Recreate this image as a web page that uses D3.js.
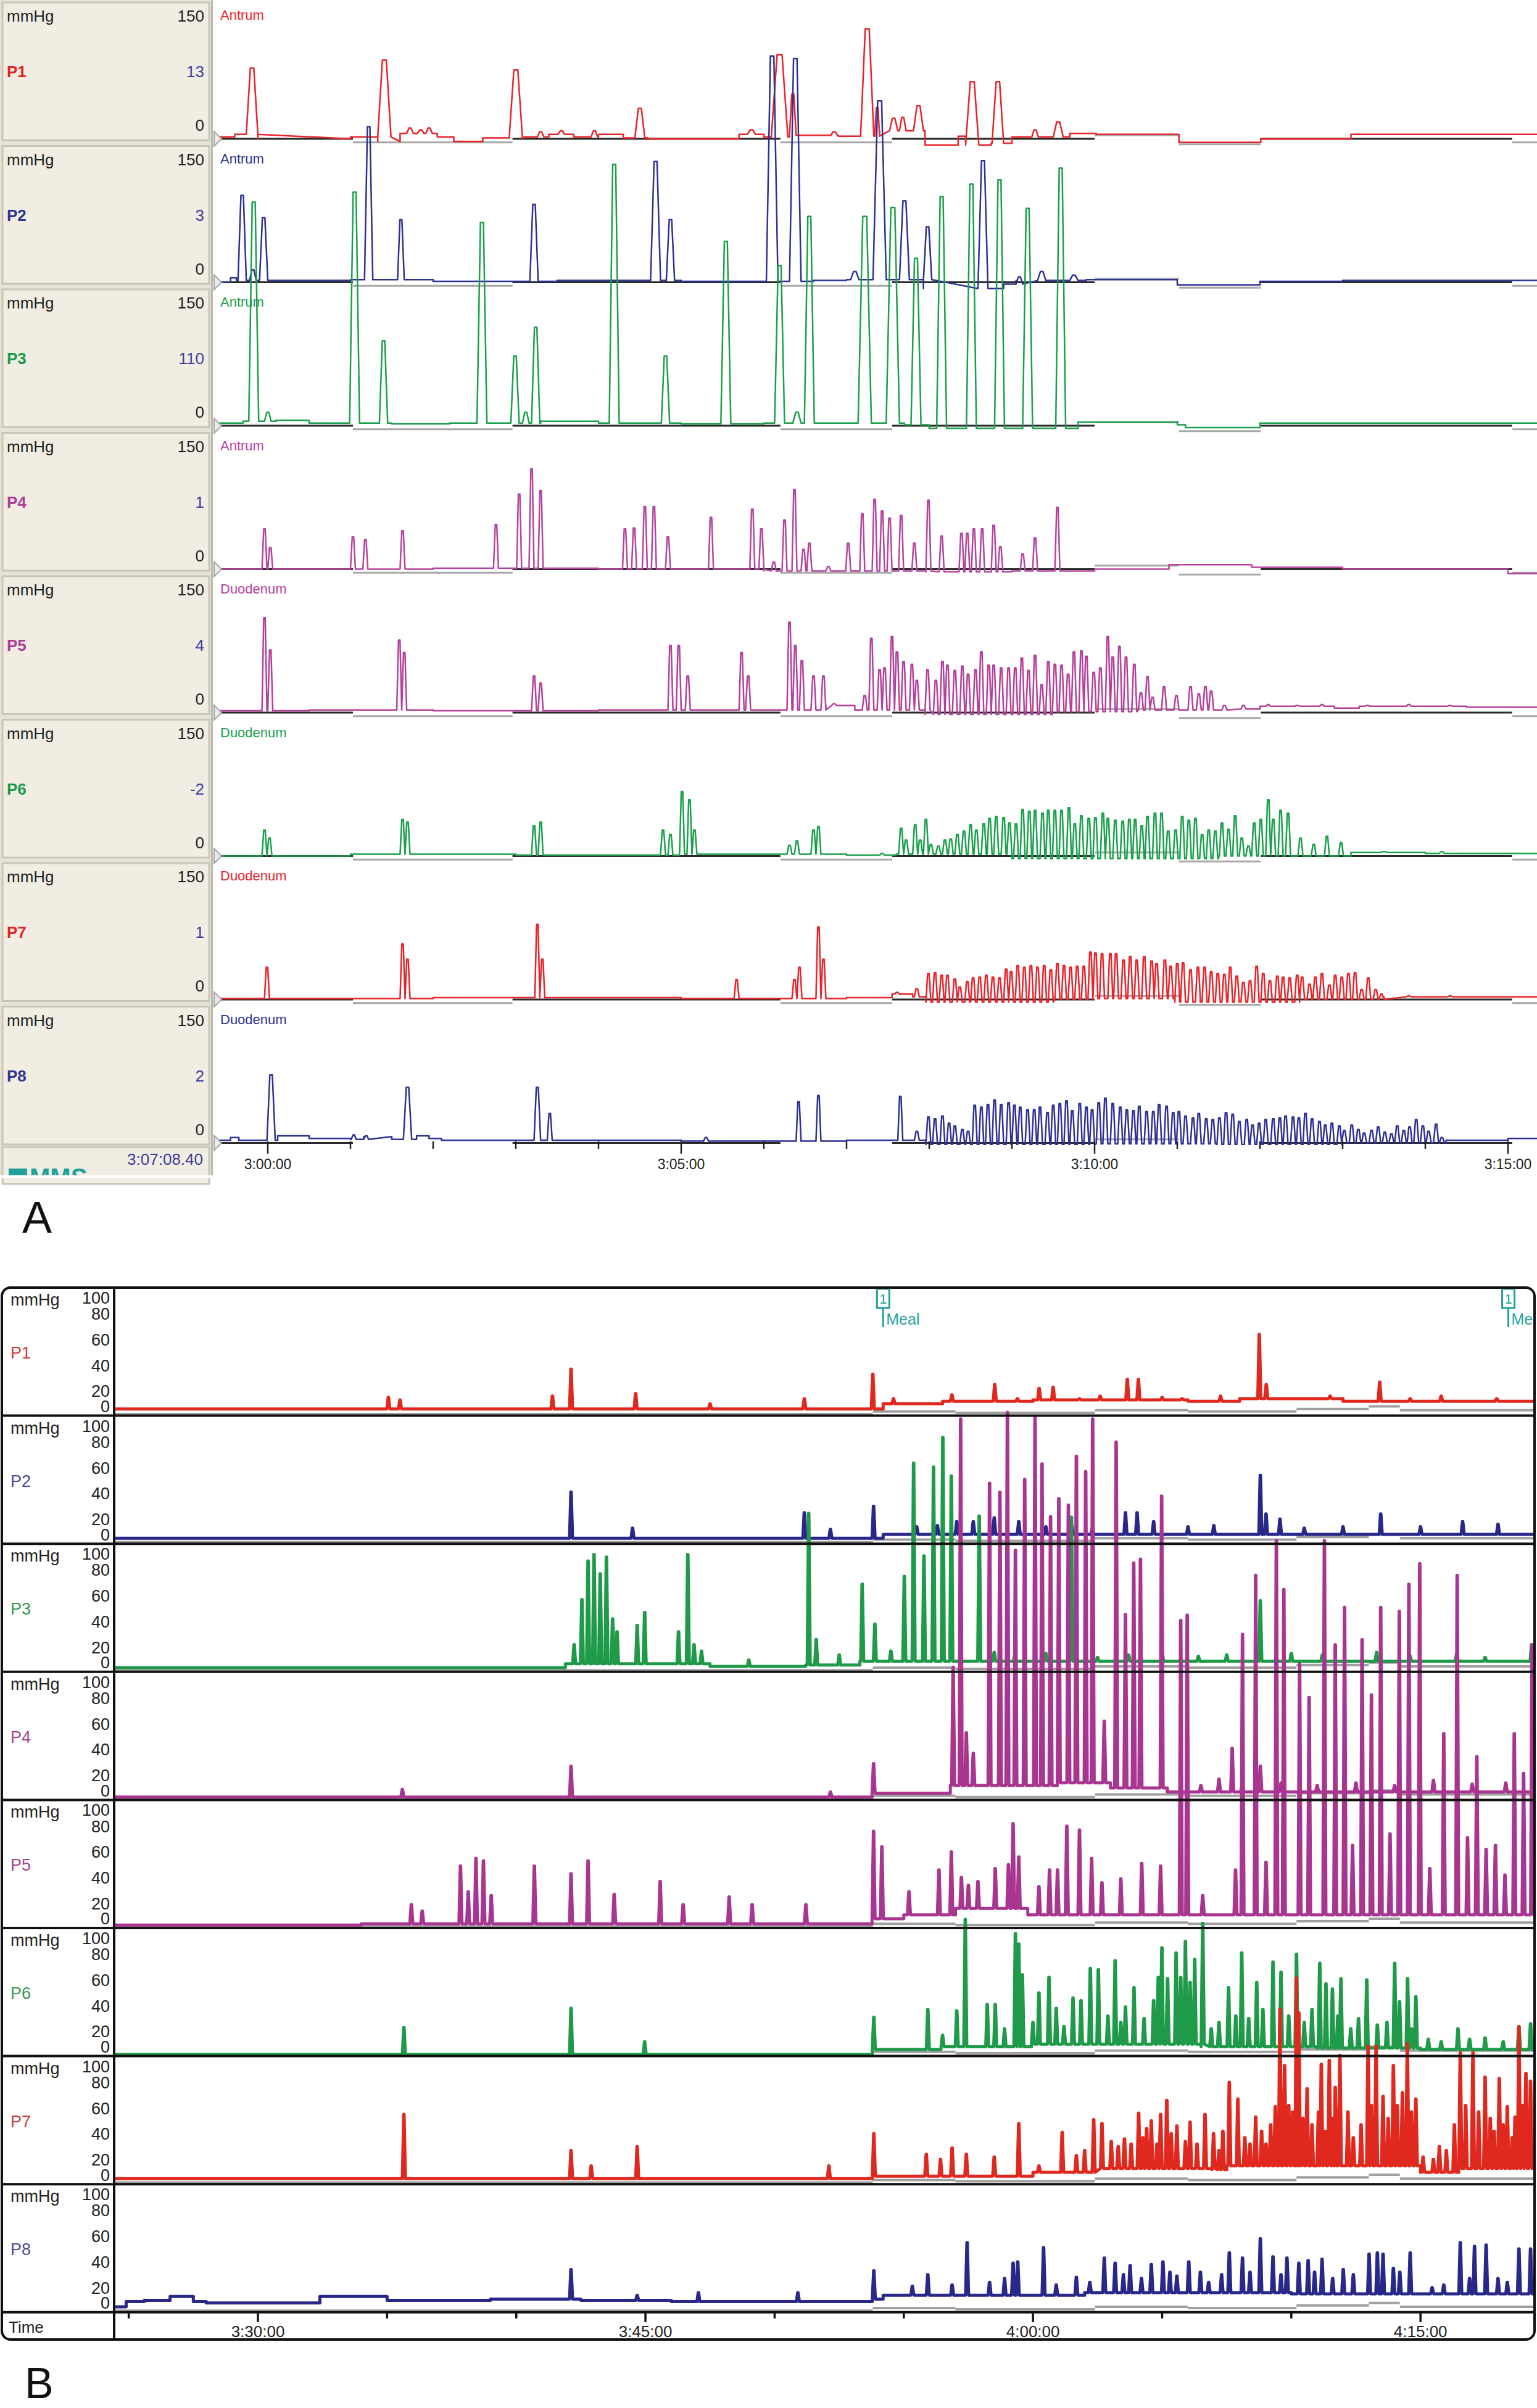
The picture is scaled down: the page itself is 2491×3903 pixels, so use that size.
<!DOCTYPE html>
<html>
<head>
<meta charset="utf-8">
<script src="https://cdn.jsdelivr.net/npm/d3@7"></script>
<style>
body { margin: 0; background: #fff; }
text { font-family: "Liberation Sans", Arial, sans-serif; }
</style>
</head>
<body>
<svg id="chart" width="2491" height="3903"></svg>
<script>
// ---------- data: panel A (minutes after 3:00:00, mmHg) ----------
var channels = ["P1", "P2", "P3", "P4", "P5", "P6", "P7", "P8"];
var sitesA = ["Antrum", "Antrum", "Antrum", "Antrum", "Duodenum", "Duodenum", "Duodenum", "Duodenum"];
var currentA = ["13", "3", "110", "1", "4", "-2", "1", "2"];
var scaleMaxA = 150;
var ticksA = [0, 5, 10, 15];
var tickLabelsA = ["3:00:00", "3:05:00", "3:10:00", "3:15:00"];
var cursorTimeA = "3:07:08.40";
// zero reference segments [from, to, level]
var refA = [[-0.65, 1.03, 0], [1.03, 2.96, -4], [2.96, 6.2, 0], [6.2, 7.55, -4], [7.55, 10.0, 0], [10.0, 11.02, 4], [11.02, 12.01, -6], [12.01, 15.05, 0], [15.05, 15.5, -4]];

// baseline steps [start, level] and peaks [time, mmHg, halfwidth?]
var a1Base = [[-0.65, 2], [-0.4, 5], [-0.12, 0], [1.0, 2], [1.48, -3], [1.6, 6], [2.05, 2], [2.25, -3], [2.6, 1], [3.1, 2], [3.4, 5], [3.7, 2], [4.0, 5], [4.3, 1], [4.6, 0], [5.7, 5], [6.0, 2], [6.35, 4], [6.9, 3], [7.4, 9], [7.95, -7], [8.35, 3], [8.45, -7], [8.75, -5], [9.0, 2], [9.7, 6], [10.02, 5], [11.02, -4], [12.01, 0], [13.1, 5]];
var a1Peaks = [[-0.19, 79, 0.07], [1.41, 88, 0.08], [1.72, 12, 0.04], [1.85, 10, 0.04], [1.95, 12, 0.04], [3.0, 77, 0.08], [3.3, 8, 0.04], [3.55, 9, 0.04], [3.95, 9, 0.04], [4.5, 34, 0.06], [5.85, 10, 0.05], [6.19, 94, 0.1], [6.35, 50, 0.04], [6.85, 8, 0.04], [7.25, 123, 0.08], [7.37, 35, 0.03], [7.57, 23, 0.05], [7.68, 24, 0.04], [7.87, 37, 0.06], [8.52, 64, 0.08], [8.83, 64, 0.07], [9.28, 10, 0.04], [9.56, 19, 0.06]];

var a2Base = [[-0.65, 0], [-0.45, 5], [-0.38, 2], [0.05, 2], [1.0, 3], [2.0, 1], [3.5, 2], [5.0, 1], [6.6, 2], [7.0, 3], [8.0, -7], [8.9, -2], [9.1, 2], [9.9, 3], [11.0, -3], [12.0, 1], [13.0, 2]];
var a2Peaks = [[-0.31, 97, 0.05], [-0.18, 14, 0.04], [-0.05, 72, 0.05], [1.22, 174, 0.05], [1.61, 70, 0.04], [3.22, 87, 0.05], [4.69, 135, 0.06], [4.87, 70, 0.05], [6.1, 253, 0.07], [6.38, 250, 0.07], [7.1, 12, 0.05], [7.4, 203, 0.08], [7.7, 91, 0.06], [7.98, 62, 0.05], [8.65, 136, 0.06], [9.09, 6, 0.04], [9.36, 12, 0.05], [9.75, 8, 0.05]];

var a3Base = [[-0.65, 3], [-0.3, 5], [0.1, 6], [0.5, 3], [1.5, 2], [2.2, 3], [3.3, 5], [4.0, 3], [5.0, 2], [6.0, 3], [7.7, 1], [8.0, -3], [9.8, 4], [11.0, 1], [11.1, -2], [12.0, 3]];
var a3Peaks = [[-0.17, 250, 0.06], [0.0, 15, 0.04], [1.05, 261, 0.06], [1.4, 95, 0.05], [2.59, 227, 0.06], [2.99, 78, 0.05], [3.12, 15, 0.04], [3.24, 110, 0.05], [4.19, 292, 0.06], [4.81, 78, 0.05], [5.54, 206, 0.06], [6.19, 179, 0.06], [6.4, 15, 0.05], [6.55, 234, 0.06], [7.22, 234, 0.08], [7.56, 244, 0.08], [7.84, 187, 0.06], [8.15, 256, 0.06], [8.51, 270, 0.06], [8.85, 275, 0.06], [9.19, 243, 0.06], [9.59, 288, 0.06]];

var a4Base = [[-0.65, 0], [2.0, 1], [4.0, 0], [6.0, -2], [8.0, -3], [9.0, -2], [10.0, 0], [10.9, 5], [11.9, 2], [13.0, 0], [15.0, -5]];
var a4Peaks = [[-0.04, 45], [0.03, 24], [1.03, 36], [1.18, 33], [1.63, 43], [2.76, 50], [3.04, 84], [3.19, 112], [3.3, 88], [4.32, 45], [4.43, 46], [4.56, 70], [4.67, 70], [4.84, 36], [5.36, 58], [5.86, 67], [5.97, 45], [6.12, 8], [6.25, 55], [6.37, 89], [6.48, 22], [6.55, 29], [6.78, 3], [7.02, 29], [7.19, 62], [7.34, 78], [7.43, 65], [7.52, 57], [7.66, 60], [7.82, 29], [7.99, 77], [8.15, 37], [8.39, 40], [8.46, 40], [8.54, 45], [8.64, 45], [8.78, 49], [8.86, 25], [9.13, 17], [9.28, 35], [9.55, 69]];

var a5Base = [[-0.65, 2], [0.5, 3], [2.0, 2], [4.0, 3], [6.75, 8], [7.1, 3], [8.0, -2], [9.5, 1], [10.5, 3], [11.6, 4], [12.0, 7], [12.9, 5], [13.2, 7], [14.5, 6]];
var a5Peaks = [[-0.04, 106], [0.03, 70], [1.59, 81], [1.65, 67], [3.22, 41], [3.3, 33], [4.87, 75], [4.97, 75], [5.08, 41], [5.73, 67], [5.81, 41], [6.31, 101], [6.38, 75], [6.46, 58], [6.6, 41], [6.72, 41], [6.85, 10], [7.22, 19], [7.3, 83], [7.4, 48], [7.46, 50], [7.55, 85], [7.61, 68], [7.69, 57], [7.79, 54], [7.85, 36], [7.98, 48], [8.08, 36], [8.16, 57], [8.22, 53], [8.31, 47], [8.4, 52], [8.47, 43], [8.56, 48], [8.63, 68], [8.72, 53], [8.78, 53], [8.87, 50], [8.96, 50], [9.04, 50], [9.12, 61], [9.2, 47], [9.28, 64], [9.36, 31], [9.44, 57], [9.52, 54], [9.6, 53], [9.68, 43], [9.75, 68], [9.84, 69], [9.9, 63], [9.99, 45], [10.07, 50], [10.16, 85], [10.22, 62], [10.3, 74], [10.38, 62], [10.48, 54], [10.56, 22], [10.64, 40], [10.7, 17], [10.84, 29], [10.99, 19], [11.16, 29], [11.26, 21], [11.34, 29], [11.41, 24], [11.57, 8], [11.8, 8], [12.1, 9], [12.45, 8], [12.75, 9], [13.3, 8], [13.8, 9], [14.3, 8]];

var a6Base = [[-0.65, 0], [1.0, 2], [3.0, 1], [5.0, 2], [7.0, 1], [7.6, 2], [9.0, -3], [10.5, -3], [11.5, 0], [13.1, 4], [14.0, 3]];
var a6Peaks = [[-0.04, 29], [0.02, 20], [1.63, 41], [1.69, 38], [3.22, 34], [3.3, 38], [4.78, 29], [4.87, 24], [5.01, 72], [5.1, 63], [5.16, 29], [6.31, 12], [6.4, 17], [6.6, 29], [6.66, 33], [7.43, 3], [7.66, 31], [7.72, 18], [7.83, 35], [7.89, 18], [7.96, 41], [8.02, 13], [8.11, 11], [8.19, 18], [8.26, 19], [8.34, 24], [8.42, 28], [8.5, 35], [8.57, 29], [8.66, 36], [8.73, 42], [8.81, 44], [8.9, 43], [8.97, 37], [9.05, 36], [9.13, 52], [9.21, 50], [9.28, 51], [9.37, 48], [9.44, 51], [9.52, 51], [9.6, 51], [9.69, 54], [9.76, 36], [9.84, 45], [9.93, 42], [10.01, 43], [10.1, 48], [10.16, 42], [10.25, 40], [10.34, 39], [10.42, 41], [10.49, 41], [10.57, 34], [10.64, 44], [10.73, 48], [10.81, 48], [10.89, 28], [10.98, 29], [11.06, 44], [11.14, 40], [11.22, 42], [11.3, 24], [11.38, 29], [11.46, 28], [11.54, 37], [11.62, 30], [11.7, 45], [11.78, 20], [11.86, 11], [11.93, 37], [12.01, 41], [12.1, 63], [12.16, 41], [12.25, 51], [12.34, 48], [12.49, 20], [12.65, 13], [12.81, 22], [12.98, 15], [13.5, 5], [14.2, 5]];

var a7Base = [[-0.65, 1], [2.0, 2], [5.0, 1], [7.0, 2], [7.55, 6], [7.8, 3], [7.97, -3], [9.5, 0], [10.0, 1], [11.0, -3], [12.5, 0], [13.5, 3]];
var a7Peaks = [[-0.01, 36], [1.63, 62], [1.69, 45], [3.26, 84], [3.32, 45], [5.67, 22], [6.37, 22], [6.43, 36], [6.66, 81], [6.72, 45], [7.61, 8], [7.85, 12], [7.99, 29], [8.07, 30], [8.15, 27], [8.22, 27], [8.31, 23], [8.37, 14], [8.46, 20], [8.53, 24], [8.61, 25], [8.69, 27], [8.77, 25], [8.85, 24], [8.93, 34], [8.99, 31], [9.07, 38], [9.15, 36], [9.23, 38], [9.31, 36], [9.39, 38], [9.47, 33], [9.55, 40], [9.63, 38], [9.71, 36], [9.79, 37], [9.87, 37], [9.95, 53], [10.01, 52], [10.09, 51], [10.19, 51], [10.26, 51], [10.35, 44], [10.43, 48], [10.51, 44], [10.6, 48], [10.69, 43], [10.75, 40], [10.85, 44], [10.92, 37], [11.0, 40], [11.07, 41], [11.16, 33], [11.25, 36], [11.33, 36], [11.41, 31], [11.49, 29], [11.57, 28], [11.64, 36], [11.72, 26], [11.8, 19], [11.88, 21], [11.96, 37], [12.04, 29], [12.12, 21], [12.21, 26], [12.28, 25], [12.36, 24], [12.45, 27], [12.51, 25], [12.6, 17], [12.67, 25], [12.75, 29], [12.84, 16], [12.91, 27], [12.99, 25], [13.07, 29], [13.15, 30], [13.23, 11], [13.31, 24], [13.4, 11], [13.47, 6], [13.8, 4], [14.3, 4]];

var a8Base = [[-0.65, 3], [-0.45, 6], [-0.35, 3], [0.12, 8], [0.5, 5], [1.0, 4], [1.2, 7], [1.5, 4], [1.8, 8], [1.95, 5], [2.1, 3], [5.0, 2], [7.0, 3], [7.97, -2], [10.0, -1], [11.5, -2], [13.0, 0], [14.25, 3], [15.0, 5]];
var a8Peaks = [[0.04, 76, 0.05], [1.04, 9], [1.19, 8], [1.69, 62, 0.05], [3.26, 62, 0.04], [3.41, 33], [5.3, 6], [6.42, 46], [6.66, 53], [7.65, 52], [7.85, 13], [7.99, 29], [8.07, 27], [8.16, 30], [8.24, 22], [8.31, 19], [8.4, 15], [8.47, 13], [8.55, 42], [8.63, 40], [8.71, 43], [8.79, 48], [8.87, 43], [8.96, 45], [9.03, 42], [9.1, 40], [9.19, 37], [9.27, 37], [9.34, 40], [9.43, 34], [9.5, 42], [9.58, 44], [9.66, 47], [9.73, 36], [9.82, 44], [9.9, 40], [9.97, 37], [10.05, 45], [10.13, 50], [10.22, 44], [10.31, 40], [10.39, 37], [10.47, 36], [10.54, 41], [10.63, 35], [10.71, 35], [10.78, 43], [10.87, 41], [10.95, 34], [11.02, 35], [11.1, 30], [11.19, 28], [11.26, 33], [11.35, 27], [11.43, 26], [11.51, 28], [11.59, 34], [11.67, 32], [11.75, 24], [11.84, 26], [11.91, 20], [11.99, 22], [12.07, 26], [12.16, 27], [12.24, 28], [12.31, 30], [12.4, 29], [12.47, 28], [12.55, 33], [12.63, 27], [12.72, 24], [12.79, 20], [12.87, 22], [12.96, 19], [13.02, 14], [13.11, 20], [13.19, 15], [13.26, 11], [13.35, 14], [13.43, 18], [13.51, 12], [13.59, 10], [13.66, 19], [13.74, 14], [13.81, 18], [13.89, 26], [13.97, 19], [14.04, 13], [14.13, 21], [14.2, 6]];

// ---------- data: panel B (minutes after 3:00:00, mmHg) ----------
var yTicksB = [0, 20, 40, 60, 80, 100];
var ticksB = [30, 45, 60, 75];
var minorTicksB = [25, 35, 40, 50, 55, 65, 70];
var tickLabelsB = ["3:30:00", "3:45:00", "4:00:00", "4:15:00"];
var mealTimes = [54.2, 78.4];
var mealLabel = "Meal";
var refB = [[24.3, 53.8, 0], [53.8, 57, 2], [57, 62.4, 1], [62.4, 66, 3], [66, 70.2, 2], [70.2, 73, 4], [73, 74.2, 6], [74.2, 79.6, 3]];

var b1Base = [[24.43, 4], [54.2, 8], [56.5, 10], [60.0, 11], [66, 10], [68, 12], [72, 10], [79.5, 11]];
var b1Peaks = [[35.05, 13], [35.5, 11], [41.4, 14], [42.12, 35], [44.62, 16], [47.5, 8], [51.15, 12], [53.8, 31], [54.6, 12], [56.86, 15], [57.6, 10], [58.52, 23], [59.4, 12], [60.24, 20], [60.78, 21], [61.8, 12], [62.6, 14], [63.65, 27], [64.08, 27], [65.0, 13], [65.77, 12], [67.26, 14], [68.76, 62], [69.03, 23], [70.2, 12], [71.5, 14], [73.42, 25], [74.6, 12], [75.8, 14], [77.95, 12]];

var b2Base = [[24.43, 3], [54.2, 6]];
var b2Peaks = [[42.12, 39], [44.5, 11], [51.15, 23], [52.16, 10], [53.83, 28], [55.5, 12], [56.3, 13], [57.05, 16], [57.69, 16], [58.5, 19], [59.45, 16], [60.5, 12], [61.5, 13], [62.3, 11], [63.58, 23], [64.03, 23], [64.67, 16], [66.0, 12], [67.0, 13], [68.8, 52], [69.02, 22], [69.56, 18], [70.5, 11], [72.0, 12], [73.46, 22], [75.0, 12], [76.63, 16], [78.0, 14]];

var b3Base = [[24.43, 2], [41.9, 5], [47.5, 3], [51.2, 4], [53.3, 7]];
var b3Peaks = [[42.24, 20], [42.54, 55], [42.78, 85], [43.01, 90], [43.25, 75], [43.49, 88], [43.73, 40], [43.9, 30], [44.68, 35], [44.97, 45], [46.28, 30], [46.64, 90], [46.88, 20], [47.17, 15], [49.0, 8], [51.32, 122], [51.61, 24], [52.5, 12], [53.39, 67], [53.88, 36], [54.5, 15], [55.02, 73], [55.38, 161], [55.78, 89], [56.15, 158], [56.51, 181], [56.84, 151], [57.92, 120], [58.5, 14], [59.3, 12], [60.5, 13], [61.49, 119], [62.5, 10], [63.7, 12], [65.0, 14], [66.4, 11], [67.5, 12], [68.8, 54], [70.0, 13], [71.2, 12], [73.3, 14], [74.6, 11], [76.4, 13], [77.5, 10], [79.3, 20]];

var b4Base = [[24.43, 1], [53.8, 4], [56.8, 10], [61.0, 12], [63.0, 8], [65.2, 5]];
var b4Peaks = [[35.59, 7], [42.12, 25], [52.16, 5], [53.83, 27], [56.91, 102], [57.2, 295], [57.42, 51], [57.69, 35], [58.32, 245], [58.72, 238], [59.01, 300], [59.32, 193], [59.68, 248], [60.08, 297], [60.35, 260], [60.68, 219], [61.0, 233], [61.37, 228], [61.68, 266], [62.04, 254], [62.31, 295], [62.76, 60], [63.22, 277], [63.58, 143], [63.9, 183], [64.16, 186], [64.98, 235], [66.5, 10], [67.2, 15], [67.71, 39], [68.1, 12], [68.8, 25], [69.6, 12], [71.0, 10], [72.5, 12], [74.0, 10], [75.5, 14], [77.0, 11], [78.3, 12]];

var b5Base = [[24.43, 1], [34.0, 2], [53.8, 6], [55.0, 9], [57.0, 14], [59.8, 9]];
var b5Peaks = [[35.94, 17], [36.36, 12], [37.84, 47], [38.14, 27], [38.44, 53], [38.73, 51], [39.03, 24], [40.7, 47], [42.12, 41], [42.78, 51], [43.79, 25], [45.57, 35], [46.46, 17], [48.24, 23], [49.13, 17], [51.21, 17], [53.83, 74], [54.15, 62], [55.2, 27], [56.36, 44], [56.84, 58], [57.23, 38], [57.5, 32], [57.87, 35], [58.54, 45], [59.05, 48], [59.23, 80], [59.45, 54], [60.23, 31], [60.64, 44], [60.95, 44], [61.31, 78], [61.8, 75], [62.27, 53], [62.67, 34], [63.4, 37], [64.21, 49], [64.94, 47], [65.72, 238], [65.97, 242], [66.57, 24], [67.84, 44], [68.11, 227], [68.62, 273], [69.02, 50], [69.42, 300], [69.71, 262], [70.32, 204], [70.69, 178], [71.28, 300], [71.7, 219], [72.06, 248], [72.37, 63], [72.74, 223], [73.1, 180], [73.46, 248], [73.82, 72], [74.18, 245], [74.55, 266], [74.97, 282], [75.36, 45], [75.9, 150], [76.42, 273], [76.82, 69], [77.18, 132], [77.54, 60], [77.9, 63], [78.27, 40], [78.63, 150], [78.99, 119], [79.32, 219]];

var b6Base = [[24.43, 0], [53.8, 4], [56.5, 6], [60.0, 8], [66.6, 6], [71.0, 5], [75.0, 4]];
var b6Peaks = [[35.65, 21], [42.12, 36], [44.97, 10], [53.84, 29], [55.93, 35], [56.5, 15], [57.05, 34], [57.38, 105], [58.23, 39], [58.54, 39], [58.9, 20], [59.32, 94], [59.45, 86], [59.59, 62], [60.0, 25], [60.23, 48], [60.62, 60], [60.9, 36], [61.2, 22], [61.55, 44], [61.86, 42], [62.22, 67], [62.53, 66], [62.9, 30], [63.18, 73], [63.4, 25], [63.58, 37], [63.91, 52], [64.3, 28], [64.67, 42], [64.85, 60], [64.99, 83], [65.21, 59], [65.54, 79], [65.72, 60], [65.9, 88], [66.08, 56], [66.26, 74], [66.57, 102], [66.9, 20], [67.2, 25], [67.57, 52], [67.85, 30], [68.08, 79], [68.35, 28], [68.66, 56], [68.9, 35], [69.29, 72], [69.6, 64], [69.9, 30], [70.2, 78], [70.5, 25], [70.8, 35], [71.1, 71], [71.34, 55], [71.59, 51], [71.8, 30], [71.92, 59], [72.3, 20], [72.6, 28], [72.92, 58], [73.33, 23], [73.7, 25], [74.0, 71], [74.19, 41], [74.5, 59], [74.65, 20], [74.82, 45], [75.3, 12], [75.8, 10], [76.45, 20], [76.9, 12], [77.5, 13], [78.2, 10], [78.81, 22], [79.26, 24]];

var b7Base = [[24.43, 3], [53.8, 5], [60.0, 8], [62.4, 11], [67.0, 10], [67.5, 13], [75.0, 8], [76.5, 11]];
var b7Peaks = [[35.65, 53], [42.12, 25], [42.9, 13], [44.68, 28], [52.1, 13], [53.84, 38], [55.87, 22], [56.42, 18], [56.87, 27], [57.42, 22], [58.5, 20], [59.45, 46], [60.23, 13], [61.13, 39], [61.68, 21], [62.0, 25], [62.35, 49], [62.67, 46], [63.03, 32], [63.3, 28], [63.54, 34], [63.8, 30], [64.09, 54], [64.25, 35], [64.4, 42], [64.58, 48], [64.8, 30], [64.94, 53], [65.18, 64], [65.35, 38], [65.57, 44], [65.9, 32], [66.08, 47], [66.35, 30], [66.66, 53], [66.99, 38], [67.2, 25], [67.35, 40], [67.6, 78], [67.93, 65], [68.2, 35], [68.4, 30], [68.62, 51], [68.85, 40], [69.02, 30], [69.2, 45], [69.38, 59], [69.56, 135], [69.74, 91], [69.9, 60], [70.05, 55], [70.2, 159], [70.29, 132], [70.45, 50], [70.61, 73], [70.8, 45], [71.05, 55], [71.16, 92], [71.3, 40], [71.47, 95], [71.6, 50], [71.7, 74], [71.88, 99], [72.19, 55], [72.4, 35], [72.7, 45], [72.97, 106], [73.1, 60], [73.28, 106], [73.55, 67], [73.75, 50], [73.95, 91], [74.1, 60], [74.3, 70], [74.49, 108], [74.65, 55], [74.82, 65], [75.1, 20], [75.5, 18], [75.73, 28], [76.0, 25], [76.31, 45], [76.54, 101], [76.75, 60], [77.03, 101], [77.25, 55], [77.5, 82], [77.7, 50], [77.85, 40], [78.05, 81], [78.2, 45], [78.36, 59], [78.55, 35], [78.66, 51], [78.81, 121], [78.95, 60], [79.08, 85], [79.26, 79]];

var b8Base = [[24.43, 3], [24.9, 7], [25.6, 8], [26.6, 11], [27.5, 7], [28.0, 6], [32.4, 11], [35.0, 8], [39.0, 9], [42.5, 8], [46.0, 7], [53.8, 9], [54.2, 12], [62.0, 14], [70, 13]];
var b8Peaks = [[42.12, 32], [44.68, 12], [47.05, 14], [50.9, 14], [53.84, 31], [55.33, 19], [55.93, 28], [56.87, 20], [57.45, 53], [58.32, 22], [58.9, 25], [59.23, 37], [59.41, 38], [60.41, 49], [60.9, 20], [61.68, 26], [62.2, 22], [62.76, 41], [63.18, 37], [63.5, 28], [63.76, 35], [64.2, 25], [64.58, 36], [65.03, 38], [65.3, 30], [65.57, 27], [66.03, 38], [66.48, 30], [66.8, 22], [67.3, 28], [67.6, 45], [68.11, 41], [68.4, 30], [68.8, 56], [69.29, 42], [69.6, 28], [69.83, 41], [70.29, 37], [70.65, 39], [70.9, 30], [71.19, 40], [71.6, 25], [72.01, 32], [72.4, 28], [73.01, 44], [73.33, 45], [73.55, 44], [73.95, 33], [74.2, 30], [74.6, 45], [75.45, 18], [75.9, 20], [76.54, 53], [76.9, 25], [77.09, 50], [77.54, 51], [78.0, 25], [78.36, 22], [78.81, 48], [79.26, 48]];

var tracesA = [[a1Base, a1Peaks], [a2Base, a2Peaks], [a3Base, a3Peaks], [a4Base, a4Peaks], [a5Base, a5Peaks], [a6Base, a6Peaks], [a7Base, a7Peaks], [a8Base, a8Peaks]];
var tracesB = [[b1Base, b1Peaks], [b2Base, b2Peaks], [b3Base, b3Peaks], [b4Base, b4Peaks], [b5Base, b5Peaks], [b6Base, b6Peaks], [b7Base, b7Peaks], [b8Base, b8Peaks]];

// ---------- styles ----------
var colA = ["#e8232a", "#2c3192", "#19a04b", "#b5449f", "#b4409c", "#19a04b", "#e8232a", "#2c3192"];
var labColA = ["#e02424", "#2c3590", "#1a9a4a", "#b03c9a", "#b03c9a", "#1a9a4a", "#e02424", "#2c3590"];
var widthA = [0.06, 0.05, 0.06, 0.03, 0.03, 0.03, 0.03, 0.03];
var colB = ["#e0281e", "#28288a", "#1f9a48", "#a8358f", "#a8358f", "#1f9a48", "#e0281e", "#28288a"];
var labColB = ["#d03a3a", "#4a4a92", "#3a9a52", "#a24592", "#a24592", "#3a9a52", "#c84040", "#4a4a92"];
var teal = "#22a19b";

var svg = d3.select("#chart");
var defs = svg.append("defs");

// step level lookup
function levelAt(base, t) {
  var lv = base[0][1];
  base.forEach(function (b) { if (b[0] <= t) lv = b[1]; });
  return lv;
}

// merge baseline steps and peaks into one ordered list of vertices
function tracePoints(base, peaks, w, topFrac, t0, t1) {
  var pts = [];
  var spans = peaks.map(function (p) { var h = p[2] || w; return [p[0] - h, p[0] + h]; });
  // a step corner that falls inside a peak is moved to the peak's start
  function shift(t) {
    spans.forEach(function (s) { if (t > s[0] && t < s[1]) t = s[0] - 1e-4; });
    return t;
  }
  base.forEach(function (b, i) {
    var tS = i === 0 ? t0 : shift(b[0]);
    var tE = i < base.length - 1 ? shift(base[i + 1][0]) : t1;
    pts.push([tS, b[1]], [tE, b[1]]);
  });
  peaks.forEach(function (p) {
    var h = p[2] || w, foot = levelAt(base, p[0]);
    pts.push([p[0] - h, foot], [p[0] - h * topFrac, p[1]], [p[0] + h * topFrac, p[1]], [p[0] + h, foot]);
  });
  pts.sort(function (a, b) { return a[0] - b[0]; });
  return pts;
}

// =============== panel A ===============
var aRowH = 232.5, aZero = 225;
var xA = d3.scaleLinear().domain([0, 15]).range([434, 2444]);
function yA(i) {
  return d3.scaleLinear().domain([0, scaleMaxA]).range([i * aRowH + aZero, i * aRowH + aZero - 217.5]);
}

// beige channel panel
var side = svg.append("g");
side.append("rect").attr("x", 0).attr("y", 0).attr("width", 344).attr("height", 1905).attr("fill", "#e6e2d6");
channels.forEach(function (c, i) {
  var top = i * aRowH;
  side.append("rect").attr("x", 4).attr("y", top + 4).attr("width", 335).attr("height", aRowH - 9)
    .attr("fill", "#f1ede2").attr("stroke", "#c9c5b8").attr("stroke-width", 3);
  side.append("text").attr("x", 11).attr("y", top + 35).attr("font-size", 26).attr("fill", "#222").text("mmHg");
  side.append("text").attr("x", 331).attr("y", top + 35).attr("font-size", 26).attr("fill", "#222").attr("text-anchor", "end").text(scaleMaxA);
  side.append("text").attr("x", 11).attr("y", top + 125).attr("font-size", 26).attr("font-weight", "bold").attr("fill", labColA[i]).text(c);
  side.append("text").attr("x", 331).attr("y", top + 125).attr("font-size", 26).attr("fill", "#3d3fa0").attr("text-anchor", "end").text(currentA[i]);
  side.append("text").attr("x", 331).attr("y", top + 212).attr("font-size", 26).attr("fill", "#222").attr("text-anchor", "end").text("0");
});
side.append("rect").attr("x", 4).attr("y", 1859).attr("width", 335).attr("height", 60)
  .attr("fill", "#f1ede2").attr("stroke", "#c9c5b8").attr("stroke-width", 3);
side.append("text").attr("x", 329).attr("y", 1888).attr("font-size", 26).attr("fill", "#3c3c9c").attr("text-anchor", "end").text(cursorTimeA);
defs.append("clipPath").attr("id", "clipLogo").append("rect").attr("x", 0).attr("y", 1860).attr("width", 344).attr("height", 45);
var logo = side.append("g").attr("clip-path", "url(#clipLogo)");
logo.append("rect").attr("x", 14).attr("y", 1894).attr("width", 30).attr("height", 30).attr("fill", teal);
logo.append("text").attr("x", 48).attr("y", 1922).attr("font-size", 40).attr("font-weight", "bold").attr("fill", teal).text("MMS");
svg.append("line").attr("x1", 343.5).attr("x2", 343.5).attr("y1", 0).attr("y2", 1905).attr("stroke", "#bdb9ad").attr("stroke-width", 3);
svg.append("rect").attr("x", 0).attr("y", 1905).attr("width", 2491).attr("height", 4).attr("fill", "#fff");

// plot area A
defs.append("clipPath").attr("id", "clipA").append("rect").attr("x", 346).attr("y", 0).attr("width", 2145).attr("height", 1856);
var plotA = svg.append("g").attr("clip-path", "url(#clipA)");

channels.forEach(function (c, i) {
  var y = yA(i);
  refA.forEach(function (s) {
    plotA.append("line").attr("x1", xA(s[0])).attr("x2", xA(s[1])).attr("y1", y(s[2])).attr("y2", y(s[2]))
      .attr("stroke", s[2] === 0 ? "#2a2a2a" : "#a8a8a8").attr("stroke-width", 3);
  });
  // start marker
  var yb = y(0);
  svg.append("path").attr("d", "M347," + (yb - 12) + "L359," + yb + "L347," + (yb + 12) + "Z")
    .attr("fill", "#ececec").attr("stroke", "#a5a5a5").attr("stroke-width", 2);
  plotA.append("text").attr("x", 357).attr("y", i * aRowH + 32).attr("font-size", 22).attr("fill", colA[i]).text(sitesA[i]);
});

channels.forEach(function (c, i) {
  var y = yA(i);
  var pts = tracePoints(tracesA[i][0], tracesA[i][1], widthA[i], 0.3, -0.7, 15.5);
  var line = d3.line().x(function (d) { return xA(d[0]); }).y(function (d) { return y(d[1]); });
  plotA.append("path").datum(pts).attr("d", line).attr("fill", "none")
    .attr("stroke", colA[i]).attr("stroke-width", 2.5).attr("stroke-linejoin", "round");
});

// time axis A
var axA = svg.append("g");
d3.range(0, 16).forEach(function (t) {
  var major = ticksA.indexOf(t) >= 0;
  axA.append("line").attr("x1", xA(t)).attr("x2", xA(t)).attr("y1", 1850).attr("y2", major ? 1870 : 1862)
    .attr("stroke", "#222").attr("stroke-width", 2.5);
});
ticksA.forEach(function (t, k) {
  axA.append("text").attr("x", xA(t)).attr("y", 1895).attr("font-size", 23).attr("fill", "#222")
    .attr("text-anchor", "middle").text(tickLabelsA[k]);
});
svg.append("text").attr("x", 36).attr("y", 1998).attr("font-size", 72).attr("fill", "#111").text("A");

// =============== panel B ===============
var bTop = 2087, bRowH = 207.6, bZero = 205, bBottom = 3792;
var xB = d3.scaleLinear().domain([30, 75]).range([418, 2302.2]);
function yB(i) {
  return d3.scaleLinear().domain([0, 100]).range([bTop + i * bRowH + bZero, bTop + i * bRowH + bZero - 208.5]);
}

defs.append("clipPath").attr("id", "clipB").append("rect").attr("x", 187).attr("y", bTop + 2).attr("width", 2298).attr("height", 8 * bRowH - 3);
var plotB = svg.append("g").attr("clip-path", "url(#clipB)");

channels.forEach(function (c, i) {
  var y = yB(i), top = bTop + i * bRowH;
  refB.forEach(function (s) {
    plotB.append("line").attr("x1", xB(s[0])).attr("x2", xB(s[1])).attr("y1", y(s[2])).attr("y2", y(s[2]))
      .attr("stroke", "#a0a0a0").attr("stroke-width", 4);
  });
  svg.append("text").attr("x", 17).attr("y", top + 29).attr("font-size", 27).attr("fill", "#222").text("mmHg");
  svg.append("text").attr("x", 17).attr("y", top + 115).attr("font-size", 27).attr("fill", labColB[i]).text(c);
  yTicksB.forEach(function (v) {
    var cy = Math.max(top + 17, Math.min(top + 193, y(v) + 5));
    svg.append("text").attr("x", 178).attr("y", cy + 9).attr("font-size", 27).attr("fill", "#222")
      .attr("text-anchor", "end").text(v);
  });
});

// meal markers
var mealG = svg.append("g").attr("clip-path", "url(#clipB)");
mealTimes.forEach(function (t) {
  var mx = xB(t);
  mealG.append("rect").attr("x", mx - 10).attr("y", bTop + 2).attr("width", 20).attr("height", 31)
    .attr("fill", "#fff").attr("stroke", teal).attr("stroke-width", 3);
  mealG.append("text").attr("x", mx).attr("y", bTop + 26).attr("font-size", 22).attr("fill", teal)
    .attr("text-anchor", "middle").text("1");
  mealG.append("line").attr("x1", mx).attr("x2", mx).attr("y1", bTop + 33).attr("y2", bTop + 64)
    .attr("stroke", teal).attr("stroke-width", 3);
  mealG.append("text").attr("x", mx + 5).attr("y", bTop + 60).attr("font-size", 25).attr("fill", teal).text(mealLabel);
});

channels.forEach(function (c, i) {
  var y = yB(i);
  var pts = tracePoints(tracesB[i][0], tracesB[i][1], 0.06, 0.15, 24.3, 79.6);
  var line = d3.line().x(function (d) { return xB(d[0]); }).y(function (d) { return y(d[1]); });
  plotB.append("path").datum(pts).attr("d", line).attr("fill", "none")
    .attr("stroke", colB[i]).attr("stroke-width", 5).attr("stroke-linejoin", "round");
});

// frame B
var frame = svg.append("g").attr("fill", "none").attr("stroke", "#111").attr("stroke-width", 4);
frame.append("rect").attr("x", 3).attr("y", bTop).attr("width", 2484).attr("height", bBottom - bTop).attr("rx", 14);
d3.range(1, 9).forEach(function (k) {
  frame.append("line").attr("x1", 3).attr("x2", 2487).attr("y1", bTop + k * bRowH).attr("y2", bTop + k * bRowH);
});
frame.append("line").attr("x1", 185).attr("x2", 185).attr("y1", bTop).attr("y2", bBottom);

// time axis B
var axTop = bTop + 8 * bRowH;
ticksB.forEach(function (t, k) {
  svg.append("line").attr("x1", xB(t)).attr("x2", xB(t)).attr("y1", axTop).attr("y2", axTop + 16)
    .attr("stroke", "#111").attr("stroke-width", 3.5);
  svg.append("text").attr("x", xB(t)).attr("y", 3788).attr("font-size", 26).attr("fill", "#222")
    .attr("text-anchor", "middle").text(tickLabelsB[k]);
});
minorTicksB.forEach(function (t) {
  svg.append("line").attr("x1", xB(t)).attr("x2", xB(t)).attr("y1", axTop).attr("y2", axTop + 10)
    .attr("stroke", "#111").attr("stroke-width", 3.5);
});
svg.append("text").attr("x", 14).attr("y", 3781).attr("font-size", 26).attr("fill", "#222").text("Time");
svg.append("text").attr("x", 40).attr("y", 3887).attr("font-size", 70).attr("fill", "#111").text("B");
</script>
</body>
</html>
